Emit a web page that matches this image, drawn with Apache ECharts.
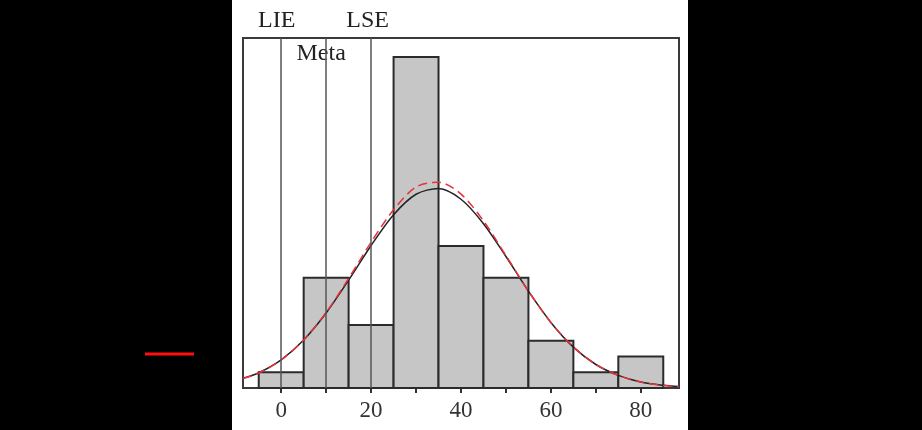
<!DOCTYPE html>
<html><head><meta charset="utf-8">
<script src="https://cdn.jsdelivr.net/npm/echarts@6/dist/echarts.min.js"></script>
<style>
html,body{margin:0;padding:0;background:#000;}
#panel{position:absolute;left:232px;top:0;width:456px;height:430px;background:#fff;}
#c{position:absolute;left:0;top:0;width:922px;height:430px;}
</style>
</head><body>
<div id="panel"></div>
<div id="c"></div>
<script>
// Histogram bins (class start, width) and counts
const binStarts = [-5, 5, 15, 25, 35, 45, 55, 65, 75];
const binWidth = 10;
const counts = [1, 7, 4, 21, 9, 7, 3, 1, 2];

// Fitted curves
const curveX    = [-8.5, -5, 0, 5, 10, 15, 20, 25, 30, 35, 40, 45, 50, 55, 60, 65, 70, 75, 80, 85, 88.5];
const normalFit = [0.62, 0.97, 1.79, 3.05, 4.76, 6.84, 9.04, 10.99, 12.29, 12.65, 11.97, 10.42, 8.34, 6.14, 4.16, 2.59, 1.49, 0.8, 0.38, 0.17, 0.09];
const refFit    = [0.60, 0.95, 1.78, 3.05, 4.80, 6.95, 9.25, 11.30, 12.75, 13.05, 12.30, 10.60, 8.40, 6.15, 4.15, 2.60, 1.50, 0.8, 0.38, 0.16, 0.09];

// Reference lines
const refLineX = [0, 10, 20];
const refLineNames = ['LIE', 'Meta', 'LSE'];

// Axis ticks / labels
const xTicks = [0, 10, 20, 30, 40, 50, 60, 70, 80];
const xTickLabels = [0, 20, 40, 60, 80];

const FONT = "'Liberation Serif','Times New Roman',serif";
const chart = echarts.init(document.getElementById('c'), null, {renderer: 'canvas'});

const option = {
  animation: false,
  backgroundColor: 'transparent',
  grid: {left: 243, right: 243, top: 38, bottom: 42, show: true, borderColor: '#3a3a3a', borderWidth: 2, backgroundColor: 'transparent'},
  xAxis: {
    type: 'value', min: -8.5, max: 88.5,
    axisLine: {show: false},
    splitLine: {show: false},
    axisTick: {show: true, customValues: xTicks, length: 5, lineStyle: {color: '#333', width: 2}},
    axisLabel: {customValues: xTickLabels, fontFamily: FONT, fontSize: 23, color: '#333', margin: 11}
  },
  yAxis: {type: 'value', min: 0, max: 22.2, show: false, splitLine: {show: false}},
  series: [
    {
      type: 'line', data: [], z: 1, silent: true,
      markLine: {
        symbol: 'none', silent: true, animation: false,
        label: {show: false},
        lineStyle: {color: '#555', width: 1.5, type: 'solid'},
        data: refLineX.map(v => ({xAxis: v}))
      }
    },
    {
      type: 'custom', z: 2,
      encode: {x: [0, 1], y: 2},
      data: binStarts.map((s, i) => [s, s + binWidth, counts[i]]),
      renderItem: function (params, api) {
        const p0 = api.coord([api.value(0), api.value(2)]);
        const p1 = api.coord([api.value(1), 0]);
        return {
          type: 'rect',
          shape: {x: p0[0], y: p0[1], width: p1[0] - p0[0], height: p1[1] - p0[1]},
          style: {fill: '#c6c6c6', stroke: '#2b2b2b', lineWidth: 2}
        };
      }
    },
    {
      type: 'line', z: 3, smooth: 0.3, showSymbol: false, symbol: 'none',
      data: curveX.map((x, i) => [x, normalFit[i]]),
      lineStyle: {color: '#222', width: 1.5}
    },
    {
      type: 'line', z: 4, smooth: 0.3, showSymbol: false, symbol: 'none',
      data: curveX.map((x, i) => [x, refFit[i]]),
      lineStyle: {color: '#e8323a', width: 1.5, type: [9, 5]}
    }
  ]
};
chart.setOption(option);

// Reference-line labels
const gridTopPx = chart.convertToPixel({gridIndex: 0}, [0, 22.2])[1];
const pLIE = chart.convertToPixel({gridIndex: 0}, [refLineX[0], 0]);
const pMeta = chart.convertToPixel({gridIndex: 0}, [refLineX[1], 0]);
const pLSE = chart.convertToPixel({gridIndex: 0}, [refLineX[2], 0]);
chart.setOption({
  graphic: [
    {type: 'text', x: pLIE[0] - 4.5, y: gridTopPx - 17, style: {text: refLineNames[0], font: '24px ' + FONT, fill: '#222', align: 'center', verticalAlign: 'middle'}},
    {type: 'text', x: pMeta[0] - 5, y: gridTopPx + 16, style: {text: refLineNames[1], font: '24px ' + FONT, fill: '#222', align: 'center', verticalAlign: 'middle'}},
    {type: 'text', x: pLSE[0] - 3.5, y: gridTopPx - 17, style: {text: refLineNames[2], font: '24px ' + FONT, fill: '#222', align: 'center', verticalAlign: 'middle'}},
    {type: 'line', shape: {x1: 145, y1: 354, x2: 194, y2: 354}, style: {stroke: '#ff1010', lineWidth: 3}}
  ]
});
</script>
</body></html>
